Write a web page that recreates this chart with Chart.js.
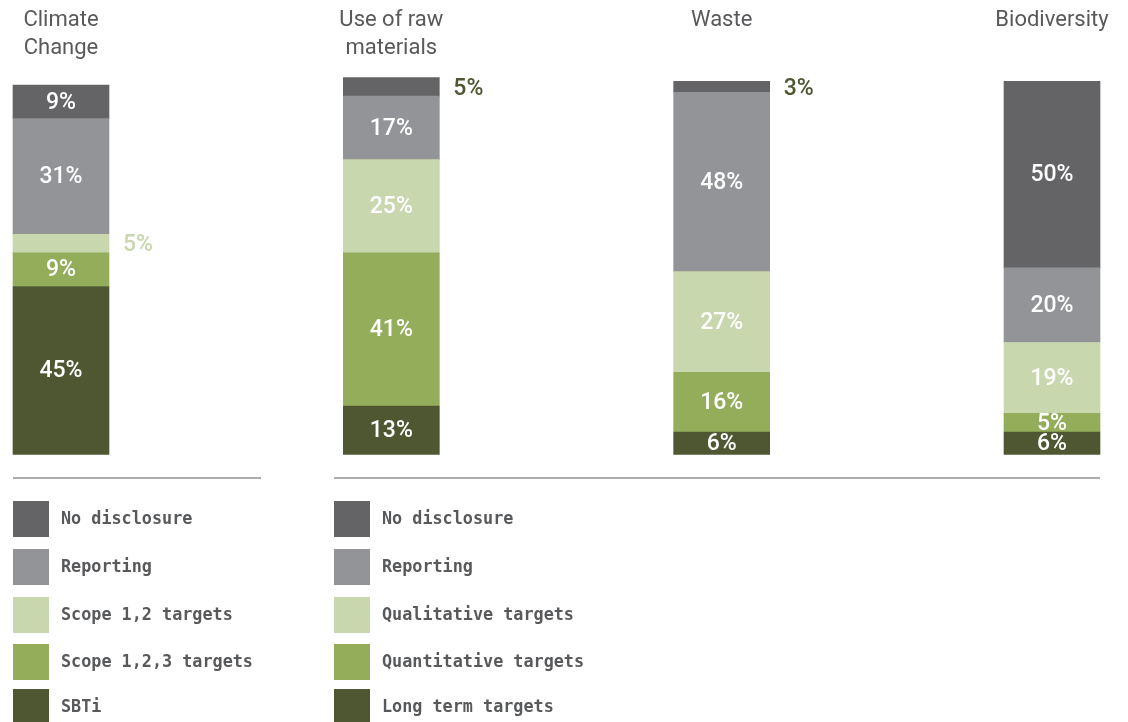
<!DOCTYPE html>
<html>
<head>
<meta charset="utf-8">
<script src="https://cdn.jsdelivr.net/npm/chart.js@4.4.1/dist/chart.umd.min.js"></script>
<style>
  html, body { margin: 0; padding: 0; background: #ffffff; }
  #wrap { position: relative; width: 1128px; height: 722px; }
</style>
</head>
<body>
<div id="wrap"><canvas id="chart"></canvas></div>
<script>
// Topics, one stacked bar each (title lines)
const categories = [['Climate', 'Change'], ['Use of raw', 'materials'], ['Waste'], ['Biodiversity']];

// Shares in % per topic, stacked bottom to top
const longTermTargets     = [45, 13, 6, 6];
const strongerTargets     = [9, 41, 16, 5];
const lighterTargets      = [5, 25, 27, 19];
const reportingOnly       = [31, 17, 48, 20];
const noDisclosure        = [9, 5, 3, 50];

// Legend texts (top to bottom) for the climate column and the other topics
const climateLegend = ['No disclosure', 'Reporting', 'Scope 1,2 targets', 'Scope 1,2,3 targets', 'SBTi'];
const otherLegend   = ['No disclosure', 'Reporting', 'Qualitative targets', 'Quantitative targets', 'Long term targets'];

// Segments labelled beside the bar instead of inside: [topic index, series index]
const sideLabels = [[0, 2], [1, 4], [2, 4]];

const COLORS = {
  none: '#646466',
  reporting: '#939497',
  light: '#c9d7af',
  mid: '#94ad5b',
  dark: '#4e5731',
  text: '#58595b',
  rule: '#adadb0'
};

const series = [
  { label: 'Long term targets', data: longTermTargets, backgroundColor: COLORS.dark, sideColor: COLORS.dark },
  { label: 'Quantitative targets', data: strongerTargets, backgroundColor: COLORS.mid, sideColor: COLORS.mid },
  { label: 'Qualitative targets', data: lighterTargets, backgroundColor: COLORS.light, sideColor: COLORS.light },
  { label: 'Reporting', data: reportingOnly, backgroundColor: COLORS.reporting, sideColor: COLORS.dark },
  { label: 'No disclosure', data: noDisclosure, backgroundColor: COLORS.none, sideColor: COLORS.dark }
];

const LABEL_FONT = '500 23px Roboto, "Open Sans", sans-serif';
const TITLE_FONT = '400 22px Roboto, "Open Sans", sans-serif';
const LEGEND_FONT = 'bold 16.8px "DejaVu Sans Mono", "Liberation Mono", monospace';
const LEGEND_ROWS = [501, 549, 597, 644, 689];

// Writes the percentage of every segment
const segmentLabels = {
  id: 'segmentLabels',
  afterDatasetsDraw(chart) {
    const ctx = chart.ctx;
    ctx.save();
    ctx.font = LABEL_FONT;
    ctx.textBaseline = 'middle';
    chart.data.datasets.forEach((ds, di) => {
      const meta = chart.getDatasetMeta(di);
      meta.data.forEach((bar, bi) => {
        const v = ds.data[bi];
        const text = v + '%';
        const cy = (bar.y + bar.base) / 2;
        const beside = sideLabels.some(([b, d]) => b === bi && d === di);
        if (beside) {
          ctx.textAlign = 'left';
          ctx.fillStyle = ds.sideColor;
          ctx.fillText(text, bar.x + bar.width / 2 + 14, cy + 2);
        } else {
          ctx.textAlign = 'center';
          ctx.fillStyle = '#ffffff';
          ctx.fillText(text, bar.x, cy + 1);
        }
      });
    });
    ctx.restore();
  }
};

// Topic titles, separator rules and the two legends
const frame = {
  id: 'frame',
  afterDraw(chart) {
    const ctx = chart.ctx;
    const xs = chart.scales.x;
    ctx.save();
    ctx.font = TITLE_FONT;
    ctx.fillStyle = COLORS.text;
    ctx.textAlign = 'center';
    ctx.textBaseline = 'alphabetic';
    categories.forEach((lines, i) => {
      const cx = xs.getPixelForValue(i);
      lines.forEach((t, li) => ctx.fillText(t, cx, 26 + li * 27.5));
    });

    const half = 48;
    const bar0 = xs.getPixelForValue(0);
    const bar3 = xs.getPixelForValue(3);
    const leftA = bar0 - half;
    const leftB = 334;

    ctx.strokeStyle = COLORS.rule;
    ctx.lineWidth = 2;
    ctx.beginPath();
    ctx.moveTo(leftA, 478); ctx.lineTo(261, 478);
    ctx.moveTo(leftB, 478); ctx.lineTo(bar3 + half, 478);
    ctx.stroke();

    const swatches = [COLORS.none, COLORS.reporting, COLORS.light, COLORS.mid, COLORS.dark];
    ctx.font = LEGEND_FONT;
    ctx.textAlign = 'left';
    ctx.textBaseline = 'middle';
    [[leftA, climateLegend], [leftB, otherLegend]].forEach(([x0, names]) => {
      names.forEach((name, i) => {
        const y0 = LEGEND_ROWS[i];
        ctx.fillStyle = swatches[i];
        ctx.fillRect(x0, y0, 36, 36);
        ctx.fillStyle = COLORS.text;
        ctx.fillText(name, x0 + 48, y0 + 19);
      });
    });
    ctx.restore();
  }
};

new Chart(document.getElementById('chart'), {
  type: 'bar',
  data: {
    labels: categories.map(l => l.join(' ')),
    datasets: series.map(s => ({
      label: s.label,
      data: s.data,
      backgroundColor: s.backgroundColor,
      sideColor: s.sideColor,
      borderWidth: 0,
      barThickness: 96,
      clip: false
    }))
  },
  options: {
    responsive: true,
    maintainAspectRatio: false,
    animation: false,
    layout: { padding: { left: 61, right: 76, top: 77.5, bottom: 267.5 } },
    plugins: { legend: { display: false }, tooltip: { enabled: false }, title: { display: false } },
    scales: {
      x: { stacked: true, display: false, offset: false },
      y: { stacked: true, display: false, min: 0, max: 101 }
    }
  },
  plugins: [segmentLabels, frame]
});
</script>
</body>
</html>
